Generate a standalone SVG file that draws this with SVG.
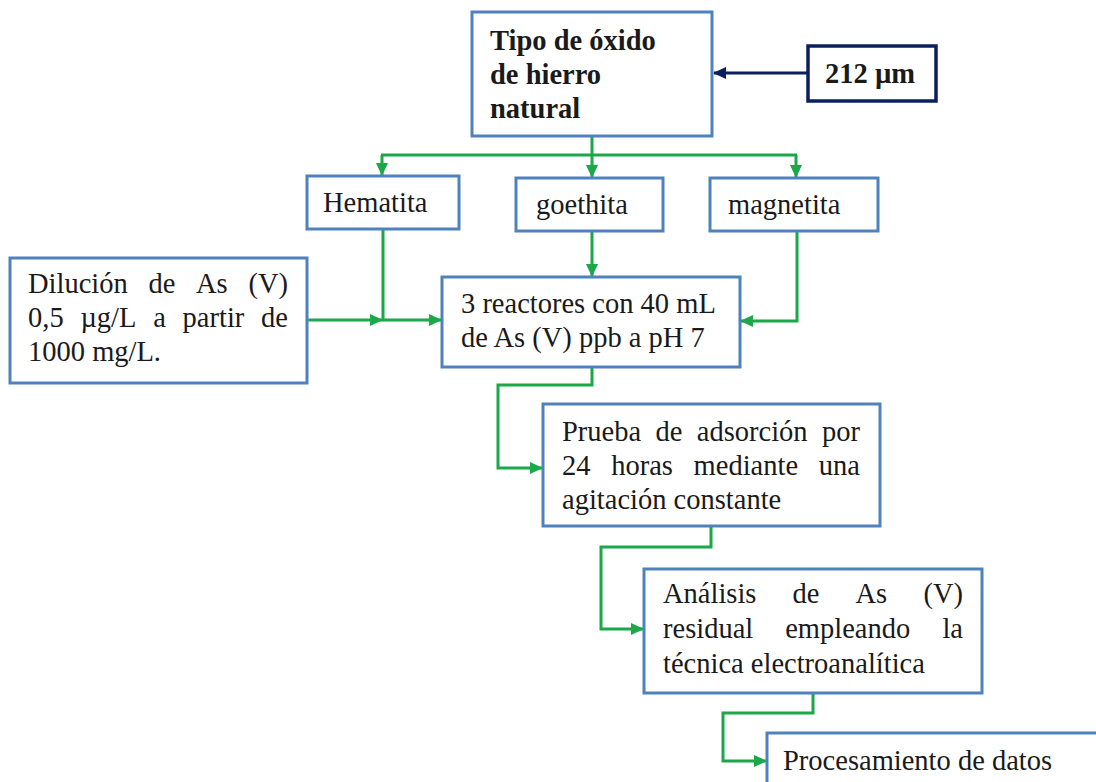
<svg xmlns="http://www.w3.org/2000/svg" width="1096" height="782" viewBox="0 0 1096 782">
  <style>
    .box { fill: #ffffff; stroke: #4f81bd; stroke-width: 3; }
    .navybox { fill: #ffffff; stroke: #0b1f5c; stroke-width: 3.5; }
    .t { font-family: "Liberation Serif", "Times New Roman", serif; font-size: 28.5px; fill: #1a1a1a; }
    .b { font-weight: bold; }
    .end { text-anchor: end; }
    .g { fill: none; stroke: #1aa84a; stroke-width: 3; }
    .n { fill: none; stroke: #0b1f5c; stroke-width: 3; }
  </style>
  <defs>
    <marker id="ag" markerUnits="userSpaceOnUse" markerWidth="13" markerHeight="12" refX="12" refY="6" orient="auto">
      <path d="M0,0 L13,6 L0,12 z" fill="#1aa84a"/>
    </marker>
    <marker id="an" markerUnits="userSpaceOnUse" markerWidth="13" markerHeight="12" refX="12" refY="6" orient="auto">
      <path d="M0,0 L13,6 L0,12 z" fill="#0b1f5c"/>
    </marker>
  </defs>
  <rect width="1096" height="782" fill="#ffffff"/>

  <g id="connectors">
    <path class="n" d="M807,73 H714" marker-end="url(#an)"/>
    <path class="g" d="M592,136 V155"/>
    <path class="g" d="M381,155 H797"/>
    <path class="g" d="M382,155 V175" marker-end="url(#ag)"/>
    <path class="g" d="M592,155 V177" marker-end="url(#ag)"/>
    <path class="g" d="M796,155 V177" marker-end="url(#ag)"/>
    <path class="g" d="M307,320 H382" marker-end="url(#ag)"/>
    <path class="g" d="M383,229 V320 H441" marker-end="url(#ag)"/>
    <path class="g" d="M592,231 V276" marker-end="url(#ag)"/>
    <path class="g" d="M797,231 V321 H741" marker-end="url(#ag)"/>
    <path class="g" d="M592,367 V385 H498 V468 H542" marker-end="url(#ag)"/>
    <path class="g" d="M711,526 V547 H601 V629 H643" marker-end="url(#ag)"/>
    <path class="g" d="M813,693 V713 H723 V761 H766" marker-end="url(#ag)"/>
  </g>

  <g id="tipo">
    <rect class="box" x="472" y="12" width="240" height="124"/>
    <text class="t b" x="490" y="50">Tipo de óxido</text>
    <text class="t b" x="490" y="84">de hierro</text>
    <text class="t b" x="490" y="118">natural</text>
  </g>

  <g id="tamano">
    <rect class="navybox" x="808" y="46" width="128" height="55"/>
    <text class="t b" x="825" y="83">212 µm</text>
  </g>

  <g id="hematita">
    <rect class="box" x="307" y="176" width="152" height="53"/>
    <text class="t" x="323" y="212">Hematita</text>
  </g>

  <g id="goethita">
    <rect class="box" x="516" y="178" width="147" height="53"/>
    <text class="t" x="536" y="214">goethita</text>
  </g>

  <g id="magnetita">
    <rect class="box" x="710" y="178" width="168" height="53"/>
    <text class="t" x="728" y="214">magnetita</text>
  </g>

  <g id="dilucion">
    <rect class="box" x="10" y="258" width="297" height="125"/>
    <text class="t" y="293"><tspan x="28">Dilución</tspan><tspan x="148.4">de</tspan><tspan x="196">As</tspan><tspan x="248.4">(V)</tspan></text>
    <text class="t" y="327"><tspan x="28">0,5</tspan><tspan x="80.4">µg/L</tspan><tspan x="153.2">a</tspan><tspan x="182.6">partir</tspan><tspan x="261.1">de</tspan></text>
    <text class="t" x="28" y="361">1000 mg/L.</text>
  </g>

  <g id="reactores">
    <rect class="box" x="442" y="277" width="298" height="90"/>
    <text class="t" x="461" y="313">3 reactores con 40 mL</text>
    <text class="t" x="461" y="347">de As (V) ppb a pH 7</text>
  </g>

  <g id="prueba">
    <rect class="box" x="543" y="404" width="337" height="122"/>
    <text class="t" y="441"><tspan x="562">Prueba</tspan><tspan x="655.5">de</tspan><tspan x="696.8">adsorción</tspan><tspan x="822">por</tspan></text>
    <text class="t" y="475"><tspan x="562">24</tspan><tspan x="611.2">horas</tspan><tspan x="693.6">mediante</tspan><tspan x="818.8">una</tspan></text>
    <text class="t" x="562" y="509">agitación constante</text>
  </g>

  <g id="analisis">
    <rect class="box" x="644" y="569" width="338" height="124"/>
    <text class="t" y="603"><tspan x="663">Análisis</tspan><tspan x="792.5">de</tspan><tspan x="855.5">As</tspan><tspan x="923.4">(V)</tspan></text>
    <text class="t" y="638"><tspan x="663">residual</tspan><tspan x="785.2">empleando</tspan><tspan x="942.4">la</tspan></text>
    <text class="t" x="663" y="673">técnica electroanalítica</text>
  </g>

  <g id="procesamiento">
    <rect class="box" x="767" y="733" width="400" height="100"/>
    <text class="t" x="783" y="770">Procesamiento de datos</text>
  </g>
</svg>
